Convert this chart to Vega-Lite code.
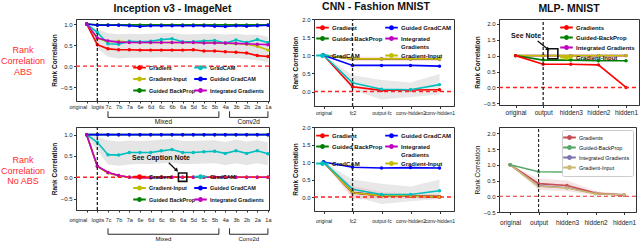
{
  "$schema": "https://vega.github.io/schema/vega-lite/v6.json",
  "padding": {"left": 0, "top": 1, "right": 0, "bottom": 0},
  "background": "white",
  "config": {
    "font": "Liberation Sans",
    "view": {"stroke": "#333", "strokeWidth": 1},
    "axis": {"grid": false, "labelFontSize": 6, "labelColor": "#222", "domainColor": "#333", "tickColor": "#333", "tickSize": 2.5, "labelPadding": 1.5, "titleFontSize": 6.5, "titleFontWeight": "bold", "titleColor": "#111", "titlePadding": 3},
    "legend": {"labelColor": "#111", "symbolStrokeWidth": 1.8, "padding": 0, "labelOffset": 5, "symbolType": "M-1.8,0H1.8M0.45,0A0.45,0.45,0,1,1,-0.45,0A0.45,0.45,0,1,1,0.45,0", "symbolSize": 49, "title": null},
    "title": {"fontSize": 10.5, "fontWeight": "bold", "color": "#111", "offset": 4}
  },
  "datasets": {
    "incA": [
      {"m":"Gradient","i":0,"v":1.0},{"m":"Gradient","i":1,"v":0.51},{"m":"Gradient","i":2,"v":0.41},{"m":"Gradient","i":3,"v":0.39},{"m":"Gradient","i":4,"v":0.39},{"m":"Gradient","i":5,"v":0.38},{"m":"Gradient","i":6,"v":0.38},{"m":"Gradient","i":7,"v":0.38},{"m":"Gradient","i":8,"v":0.38},{"m":"Gradient","i":9,"v":0.38},{"m":"Gradient","i":10,"v":0.39},{"m":"Gradient","i":11,"v":0.36},{"m":"Gradient","i":12,"v":0.36},{"m":"Gradient","i":13,"v":0.34},{"m":"Gradient","i":14,"v":0.33},{"m":"Gradient","i":15,"v":0.31},{"m":"Gradient","i":16,"v":0.25},{"m":"Gradient","i":17,"v":0.23},
      {"m":"Gradient-Input","i":0,"v":1.0},{"m":"Gradient-Input","i":1,"v":0.66},{"m":"Gradient-Input","i":2,"v":0.58},{"m":"Gradient-Input","i":3,"v":0.59},{"m":"Gradient-Input","i":4,"v":0.57},{"m":"Gradient-Input","i":5,"v":0.56},{"m":"Gradient-Input","i":6,"v":0.56},{"m":"Gradient-Input","i":7,"v":0.56},{"m":"Gradient-Input","i":8,"v":0.56},{"m":"Gradient-Input","i":9,"v":0.56},{"m":"Gradient-Input","i":10,"v":0.56},{"m":"Gradient-Input","i":11,"v":0.56},{"m":"Gradient-Input","i":12,"v":0.56},{"m":"Gradient-Input","i":13,"v":0.54},{"m":"Gradient-Input","i":14,"v":0.53},{"m":"Gradient-Input","i":15,"v":0.52},{"m":"Gradient-Input","i":16,"v":0.47},{"m":"Gradient-Input","i":17,"v":0.38},
      {"m":"Guided BackProp","i":0,"v":1.0},{"m":"Guided BackProp","i":1,"v":0.98},{"m":"Guided BackProp","i":2,"v":0.98},{"m":"Guided BackProp","i":3,"v":0.98},{"m":"Guided BackProp","i":4,"v":0.98},{"m":"Guided BackProp","i":5,"v":0.98},{"m":"Guided BackProp","i":6,"v":0.98},{"m":"Guided BackProp","i":7,"v":0.98},{"m":"Guided BackProp","i":8,"v":0.98},{"m":"Guided BackProp","i":9,"v":0.98},{"m":"Guided BackProp","i":10,"v":0.98},{"m":"Guided BackProp","i":11,"v":0.98},{"m":"Guided BackProp","i":12,"v":0.98},{"m":"Guided BackProp","i":13,"v":0.98},{"m":"Guided BackProp","i":14,"v":0.98},{"m":"Guided BackProp","i":15,"v":0.98},{"m":"Guided BackProp","i":16,"v":0.98},{"m":"Guided BackProp","i":17,"v":0.98},
      {"m":"GradCAM","i":0,"v":1.0},{"m":"GradCAM","i":1,"v":0.80},{"m":"GradCAM","i":2,"v":0.53},{"m":"GradCAM","i":3,"v":0.52},{"m":"GradCAM","i":4,"v":0.59},{"m":"GradCAM","i":5,"v":0.58},{"m":"GradCAM","i":6,"v":0.59},{"m":"GradCAM","i":7,"v":0.63},{"m":"GradCAM","i":8,"v":0.65},{"m":"GradCAM","i":9,"v":0.58},{"m":"GradCAM","i":10,"v":0.58},{"m":"GradCAM","i":11,"v":0.60},{"m":"GradCAM","i":12,"v":0.61},{"m":"GradCAM","i":13,"v":0.55},{"m":"GradCAM","i":14,"v":0.62},{"m":"GradCAM","i":15,"v":0.56},{"m":"GradCAM","i":16,"v":0.63},{"m":"GradCAM","i":17,"v":0.56},
      {"m":"Guided GradCAM","i":0,"v":1.0},{"m":"Guided GradCAM","i":1,"v":0.97},{"m":"Guided GradCAM","i":2,"v":0.97},{"m":"Guided GradCAM","i":3,"v":0.97},{"m":"Guided GradCAM","i":4,"v":0.96},{"m":"Guided GradCAM","i":5,"v":0.94},{"m":"Guided GradCAM","i":6,"v":0.96},{"m":"Guided GradCAM","i":7,"v":0.96},{"m":"Guided GradCAM","i":8,"v":0.96},{"m":"Guided GradCAM","i":9,"v":0.96},{"m":"Guided GradCAM","i":10,"v":0.96},{"m":"Guided GradCAM","i":11,"v":0.96},{"m":"Guided GradCAM","i":12,"v":0.95},{"m":"Guided GradCAM","i":13,"v":0.94},{"m":"Guided GradCAM","i":14,"v":0.96},{"m":"Guided GradCAM","i":15,"v":0.95},{"m":"Guided GradCAM","i":16,"v":0.96},{"m":"Guided GradCAM","i":17,"v":0.97},
      {"m":"Integrated Gradients","i":0,"v":1.0},{"m":"Integrated Gradients","i":1,"v":0.67},{"m":"Integrated Gradients","i":2,"v":0.60},{"m":"Integrated Gradients","i":3,"v":0.57},{"m":"Integrated Gradients","i":4,"v":0.56},{"m":"Integrated Gradients","i":5,"v":0.56},{"m":"Integrated Gradients","i":6,"v":0.56},{"m":"Integrated Gradients","i":7,"v":0.56},{"m":"Integrated Gradients","i":8,"v":0.56},{"m":"Integrated Gradients","i":9,"v":0.56},{"m":"Integrated Gradients","i":10,"v":0.56},{"m":"Integrated Gradients","i":11,"v":0.55},{"m":"Integrated Gradients","i":12,"v":0.55},{"m":"Integrated Gradients","i":13,"v":0.55},{"m":"Integrated Gradients","i":14,"v":0.54},{"m":"Integrated Gradients","i":15,"v":0.53},{"m":"Integrated Gradients","i":16,"v":0.52},{"m":"Integrated Gradients","i":17,"v":0.51}
    ],
    "incA_band": [
      {"i":0,"v":1.0,"v2":1.0},{"i":1,"v":0.42,"v2":0.88},{"i":2,"v":0.22,"v2":0.78},{"i":3,"v":0.18,"v2":0.76},{"i":4,"v":0.2,"v2":0.77},{"i":5,"v":0.2,"v2":0.76},{"i":6,"v":0.2,"v2":0.77},{"i":7,"v":0.21,"v2":0.78},{"i":8,"v":0.2,"v2":0.79},{"i":9,"v":0.2,"v2":0.76},{"i":10,"v":0.2,"v2":0.76},{"i":11,"v":0.2,"v2":0.77},{"i":12,"v":0.2,"v2":0.77},{"i":13,"v":0.19,"v2":0.75},{"i":14,"v":0.19,"v2":0.77},{"i":15,"v":0.17,"v2":0.74},{"i":16,"v":0.14,"v2":0.75},{"i":17,"v":0.1,"v2":0.7}
    ],
    "incB": [
      {"m":"Gradient","i":0,"v":1.0},{"m":"Gradient","i":1,"v":0.26},{"m":"Gradient","i":2,"v":0.11},{"m":"Gradient","i":3,"v":0.04},{"m":"Gradient","i":4,"v":0.0},{"m":"Gradient","i":5,"v":-0.01},{"m":"Gradient","i":6,"v":-0.01},{"m":"Gradient","i":7,"v":0.0},{"m":"Gradient","i":8,"v":0.0},{"m":"Gradient","i":9,"v":0.0},{"m":"Gradient","i":10,"v":0.0},{"m":"Gradient","i":11,"v":0.0},{"m":"Gradient","i":12,"v":0.0},{"m":"Gradient","i":13,"v":0.0},{"m":"Gradient","i":14,"v":0.0},{"m":"Gradient","i":15,"v":0.0},{"m":"Gradient","i":16,"v":0.0},{"m":"Gradient","i":17,"v":0.0},
      {"m":"Gradient-Input","i":0,"v":1.0},{"m":"Gradient-Input","i":1,"v":0.25},{"m":"Gradient-Input","i":2,"v":0.10},{"m":"Gradient-Input","i":3,"v":0.03},{"m":"Gradient-Input","i":4,"v":0.0},{"m":"Gradient-Input","i":5,"v":0.0},{"m":"Gradient-Input","i":6,"v":0.0},{"m":"Gradient-Input","i":7,"v":0.0},{"m":"Gradient-Input","i":8,"v":0.0},{"m":"Gradient-Input","i":9,"v":0.0},{"m":"Gradient-Input","i":10,"v":0.0},{"m":"Gradient-Input","i":11,"v":0.0},{"m":"Gradient-Input","i":12,"v":0.0},{"m":"Gradient-Input","i":13,"v":0.0},{"m":"Gradient-Input","i":14,"v":0.0},{"m":"Gradient-Input","i":15,"v":0.0},{"m":"Gradient-Input","i":16,"v":0.0},{"m":"Gradient-Input","i":17,"v":0.0},
      {"m":"Guided BackProp","i":0,"v":1.0},{"m":"Guided BackProp","i":1,"v":1.0},{"m":"Guided BackProp","i":2,"v":1.0},{"m":"Guided BackProp","i":3,"v":1.0},{"m":"Guided BackProp","i":4,"v":1.0},{"m":"Guided BackProp","i":5,"v":1.0},{"m":"Guided BackProp","i":6,"v":1.0},{"m":"Guided BackProp","i":7,"v":1.0},{"m":"Guided BackProp","i":8,"v":1.0},{"m":"Guided BackProp","i":9,"v":1.0},{"m":"Guided BackProp","i":10,"v":1.0},{"m":"Guided BackProp","i":11,"v":1.0},{"m":"Guided BackProp","i":12,"v":1.0},{"m":"Guided BackProp","i":13,"v":1.0},{"m":"Guided BackProp","i":14,"v":1.0},{"m":"Guided BackProp","i":15,"v":1.0},{"m":"Guided BackProp","i":16,"v":1.0},{"m":"Guided BackProp","i":17,"v":1.0},
      {"m":"GradCAM","i":0,"v":1.0},{"m":"GradCAM","i":1,"v":0.82},{"m":"GradCAM","i":2,"v":0.53},{"m":"GradCAM","i":3,"v":0.52},{"m":"GradCAM","i":4,"v":0.58},{"m":"GradCAM","i":5,"v":0.58},{"m":"GradCAM","i":6,"v":0.58},{"m":"GradCAM","i":7,"v":0.62},{"m":"GradCAM","i":8,"v":0.65},{"m":"GradCAM","i":9,"v":0.58},{"m":"GradCAM","i":10,"v":0.58},{"m":"GradCAM","i":11,"v":0.60},{"m":"GradCAM","i":12,"v":0.61},{"m":"GradCAM","i":13,"v":0.56},{"m":"GradCAM","i":14,"v":0.62},{"m":"GradCAM","i":15,"v":0.56},{"m":"GradCAM","i":16,"v":0.62},{"m":"GradCAM","i":17,"v":0.55},
      {"m":"Guided GradCAM","i":0,"v":1.0},{"m":"Guided GradCAM","i":1,"v":1.0},{"m":"Guided GradCAM","i":2,"v":1.0},{"m":"Guided GradCAM","i":3,"v":1.0},{"m":"Guided GradCAM","i":4,"v":1.0},{"m":"Guided GradCAM","i":5,"v":1.0},{"m":"Guided GradCAM","i":6,"v":1.0},{"m":"Guided GradCAM","i":7,"v":1.0},{"m":"Guided GradCAM","i":8,"v":1.0},{"m":"Guided GradCAM","i":9,"v":1.0},{"m":"Guided GradCAM","i":10,"v":1.0},{"m":"Guided GradCAM","i":11,"v":1.0},{"m":"Guided GradCAM","i":12,"v":1.0},{"m":"Guided GradCAM","i":13,"v":1.0},{"m":"Guided GradCAM","i":14,"v":1.0},{"m":"Guided GradCAM","i":15,"v":1.0},{"m":"Guided GradCAM","i":16,"v":1.0},{"m":"Guided GradCAM","i":17,"v":1.0},
      {"m":"Integrated Gradients","i":0,"v":1.0},{"m":"Integrated Gradients","i":1,"v":0.26},{"m":"Integrated Gradients","i":2,"v":0.11},{"m":"Integrated Gradients","i":3,"v":0.04},{"m":"Integrated Gradients","i":4,"v":0.0},{"m":"Integrated Gradients","i":5,"v":-0.01},{"m":"Integrated Gradients","i":6,"v":-0.01},{"m":"Integrated Gradients","i":7,"v":0.0},{"m":"Integrated Gradients","i":8,"v":0.0},{"m":"Integrated Gradients","i":9,"v":0.0},{"m":"Integrated Gradients","i":10,"v":0.0},{"m":"Integrated Gradients","i":11,"v":0.0},{"m":"Integrated Gradients","i":12,"v":0.0},{"m":"Integrated Gradients","i":13,"v":0.0},{"m":"Integrated Gradients","i":14,"v":0.0},{"m":"Integrated Gradients","i":15,"v":0.0},{"m":"Integrated Gradients","i":16,"v":0.0},{"m":"Integrated Gradients","i":17,"v":0.0}
    ],
    "incB_band": [
      {"i":0,"v":1.0,"v2":1.0},{"i":1,"v":0.62,"v2":0.95},{"i":2,"v":0.3,"v2":0.86},{"i":3,"v":0.27,"v2":0.84},{"i":4,"v":0.3,"v2":0.86},{"i":5,"v":0.31,"v2":0.85},{"i":6,"v":0.31,"v2":0.86},{"i":7,"v":0.33,"v2":0.88},{"i":8,"v":0.34,"v2":0.9},{"i":9,"v":0.31,"v2":0.85},{"i":10,"v":0.31,"v2":0.85},{"i":11,"v":0.32,"v2":0.86},{"i":12,"v":0.33,"v2":0.87},{"i":13,"v":0.29,"v2":0.83},{"i":14,"v":0.33,"v2":0.88},{"i":15,"v":0.29,"v2":0.84},{"i":16,"v":0.33,"v2":0.87},{"i":17,"v":0.28,"v2":0.82}
    ],
    "cnnA": [
      {"m":"Guided BackProp","i":0,"v":1.0},{"m":"Guided BackProp","i":1,"v":0.9},{"m":"Guided BackProp","i":2,"v":0.9},{"m":"Guided BackProp","i":3,"v":0.9},{"m":"Guided BackProp","i":4,"v":0.9},
      {"m":"Integrated Gradients","i":0,"v":1.0},{"m":"Integrated Gradients","i":1,"v":0.9},{"m":"Integrated Gradients","i":2,"v":0.9},{"m":"Integrated Gradients","i":3,"v":0.9},{"m":"Integrated Gradients","i":4,"v":0.9},
      {"m":"Gradient-Input","i":0,"v":1.0},{"m":"Gradient-Input","i":1,"v":0.9},{"m":"Gradient-Input","i":2,"v":0.9},{"m":"Gradient-Input","i":3,"v":0.9},{"m":"Gradient-Input","i":4,"v":0.9},
      {"m":"Gradient","i":0,"v":1.0},{"m":"Gradient","i":1,"v":0.13},{"m":"Gradient","i":2,"v":0.03},{"m":"Gradient","i":3,"v":0.04},{"m":"Gradient","i":4,"v":0.05},
      {"m":"GradCAM","i":0,"v":1.0},{"m":"GradCAM","i":1,"v":0.24},{"m":"GradCAM","i":2,"v":0.06},{"m":"GradCAM","i":3,"v":0.05},{"m":"GradCAM","i":4,"v":0.19},
      {"m":"Guided GradCAM","i":0,"v":1.0},{"m":"Guided GradCAM","i":1,"v":0.72},{"m":"Guided GradCAM","i":2,"v":0.72},{"m":"Guided GradCAM","i":3,"v":0.72},{"m":"Guided GradCAM","i":4,"v":0.70}
    ],
    "cnnA_band": [
      {"i":0,"v":1.0,"v2":1.0},{"i":1,"v":0.04,"v2":0.45},{"i":2,"v":-0.22,"v2":0.32},{"i":3,"v":-0.15,"v2":0.25},{"i":4,"v":-0.08,"v2":0.48}
    ],
    "cnnA_band2": [
      {"i":0,"v":1.0,"v2":1.0},{"i":1,"v":0.84,"v2":0.96},{"i":2,"v":0.84,"v2":0.96},{"i":3,"v":0.84,"v2":0.96},{"i":4,"v":0.84,"v2":0.96}
    ],
    "cnnB": [
      {"m":"Guided BackProp","i":0,"v":1.0},{"m":"Guided BackProp","i":1,"v":0.13},{"m":"Guided BackProp","i":2,"v":0.04},{"m":"Guided BackProp","i":3,"v":0.03},{"m":"Guided BackProp","i":4,"v":0.01},
      {"m":"Gradient","i":0,"v":1.0},{"m":"Gradient","i":1,"v":0.12},{"m":"Gradient","i":2,"v":0.03},{"m":"Gradient","i":3,"v":0.02},{"m":"Gradient","i":4,"v":0.01},
      {"m":"Integrated Gradients","i":0,"v":1.0},{"m":"Integrated Gradients","i":1,"v":0.13},{"m":"Integrated Gradients","i":2,"v":0.04},{"m":"Integrated Gradients","i":3,"v":0.03},{"m":"Integrated Gradients","i":4,"v":0.0},
      {"m":"Gradient-Input","i":0,"v":1.0},{"m":"Gradient-Input","i":1,"v":0.12},{"m":"Gradient-Input","i":2,"v":0.04},{"m":"Gradient-Input","i":3,"v":0.03},{"m":"Gradient-Input","i":4,"v":0.0},
      {"m":"GradCAM","i":0,"v":1.0},{"m":"GradCAM","i":1,"v":0.22},{"m":"GradCAM","i":2,"v":0.07},{"m":"GradCAM","i":3,"v":0.07},{"m":"GradCAM","i":4,"v":0.18},
      {"m":"Guided GradCAM","i":0,"v":1.0},{"m":"Guided GradCAM","i":1,"v":0.85},{"m":"Guided GradCAM","i":2,"v":0.83},{"m":"Guided GradCAM","i":3,"v":0.84},{"m":"Guided GradCAM","i":4,"v":0.83}
    ],
    "cnnB_band": [
      {"i":0,"v":1.0,"v2":1.0},{"i":1,"v":0.02,"v2":0.5},{"i":2,"v":-0.2,"v2":0.38},{"i":3,"v":-0.12,"v2":0.3},{"i":4,"v":-0.06,"v2":0.5}
    ],
    "cnnB_band2": [
      {"i":0,"v":1.0,"v2":1.0},{"i":1,"v":-0.06,"v2":0.32},{"i":2,"v":-0.05,"v2":0.14},{"i":3,"v":-0.04,"v2":0.1},{"i":4,"v":-0.05,"v2":0.08}
    ],
    "mlpA": [
      {"m":"Integrated Gradients","i":0,"v":1.0},{"m":"Integrated Gradients","i":1,"v":1.0},{"m":"Integrated Gradients","i":2,"v":1.0},{"m":"Integrated Gradients","i":3,"v":1.0},{"m":"Integrated Gradients","i":4,"v":1.0},
      {"m":"Gradient-Input","i":0,"v":1.0},{"m":"Gradient-Input","i":1,"v":1.0},{"m":"Gradient-Input","i":2,"v":1.0},{"m":"Gradient-Input","i":3,"v":1.0},{"m":"Gradient-Input","i":4,"v":1.0},
      {"m":"Guided-BackProp","i":0,"v":1.0},{"m":"Guided-BackProp","i":1,"v":0.86},{"m":"Guided-BackProp","i":2,"v":0.86},{"m":"Guided-BackProp","i":3,"v":0.84},{"m":"Guided-BackProp","i":4,"v":0.84},
      {"m":"Gradients","i":0,"v":1.0},{"m":"Gradients","i":1,"v":0.73},{"m":"Gradients","i":2,"v":0.73},{"m":"Gradients","i":3,"v":0.71},{"m":"Gradients","i":4,"v":0.0}
    ],
    "mlpB": [
      {"m":"Integrated Gradients","i":0,"v":1.0},{"m":"Integrated Gradients","i":1,"v":0.33},{"m":"Integrated Gradients","i":2,"v":0.27},{"m":"Integrated Gradients","i":3,"v":0.09},{"m":"Integrated Gradients","i":4,"v":0.05},
      {"m":"Gradients","i":0,"v":1.0},{"m":"Gradients","i":1,"v":0.40},{"m":"Gradients","i":2,"v":0.34},{"m":"Gradients","i":3,"v":0.10},{"m":"Gradients","i":4,"v":0.03},
      {"m":"Gradient-Input","i":0,"v":1.0},{"m":"Gradient-Input","i":1,"v":0.32},{"m":"Gradient-Input","i":2,"v":0.26},{"m":"Gradient-Input","i":3,"v":0.08},{"m":"Gradient-Input","i":4,"v":0.05},
      {"m":"Guided-BackProp","i":0,"v":1.0},{"m":"Guided-BackProp","i":1,"v":0.78},{"m":"Guided-BackProp","i":2,"v":0.77},{"m":"Guided-BackProp","i":3,"v":0.74},{"m":"Guided-BackProp","i":4,"v":0.72}
    ],
    "mlpB_band": [
      {"i":0,"v":1.0,"v2":1.0},{"i":1,"v":0.2,"v2":0.56},{"i":2,"v":0.16,"v2":0.5},{"i":3,"v":0.04,"v2":0.16},{"i":4,"v":0.0,"v2":0.08}
    ],
    "incA_br": [
      {"i":2,"i2":2,"v":-1.075,"v2":-1.22},{"i":12.4,"i2":12.4,"v":-1.075,"v2":-1.22},{"i":2,"i2":12.4,"v":-1.22,"v2":-1.22},
      {"i":13.4,"i2":13.4,"v":-1.075,"v2":-1.22},{"i":17,"i2":17,"v":-1.075,"v2":-1.22},{"i":13.4,"i2":17,"v":-1.22,"v2":-1.22}
    ],
    "incA_tx": [{"i":7.2,"v":-1.34,"t":"Mixed"},{"i":15.2,"v":-1.34,"t":"Conv2d"}],
    "incB_br": [
      {"i":2,"i2":2,"v":-1.2,"v2":-1.34},{"i":12.4,"i2":12.4,"v":-1.2,"v2":-1.34},{"i":2,"i2":12.4,"v":-1.34,"v2":-1.34},
      {"i":13.4,"i2":13.4,"v":-1.2,"v2":-1.34},{"i":17,"i2":17,"v":-1.2,"v2":-1.34},{"i":13.4,"i2":17,"v":-1.34,"v2":-1.34}
    ],
    "incB_tx": [{"i":7.2,"v":-1.44,"t":"Mixed"},{"i":15.2,"v":-1.44,"t":"Conv2d"}]
  },
  "columns": 3,
  "align": "none",
  "bounds": "flush",
  "spacing": {"row": 21, "column": 45},
  "resolve": {"scale": {"color": "independent"}, "legend": {"color": "independent"}},
  "concat": [
    {
      "width": 193, "height": 82,
      "title": {"text": "Inception v3 - ImageNet"},
      "encoding": {
        "x": {"field": "i", "type": "quantitative", "scale": {"domain": [-1, 17.1], "nice": false, "zero": false},
              "axis": {"title": null, "values": [0,1,2,3,4,5,6,7,8,9,10,11,12,13,14,15,16,17], "labelExpr": "['original','logits','7c','7b','7a','6e','6d','6c','6b','6a','5d','5c','5b','4a','3b','2b','2a','1a'][datum.value]", "labelFontSize": 5.5, "labelOverlap": false, "labelFlush": false, "labelBound": false, "tickSize": 2, "labelAlign": {"condition": {"test": "datum.value < 1", "value": "right"}, "value": "center"}}},
        "y": {"field": "v", "type": "quantitative", "scale": {"domain": [-0.83, 1.12], "nice": false, "zero": false},
              "axis": {"title": "Rank Correlation", "values": [-0.5, 0, 0.5, 1], "format": ".1f"}}
      },
      "layer": [
        {"data": {"name": "incA_band"}, "mark": {"type": "area", "color": "#bdbdbd", "opacity": 0.4}, "encoding": {"y2": {"field": "v2"}}},
        {"data": {"name": "incA"}, "mark": {"type": "line", "strokeWidth": 1.6, "point": {"filled": true, "size": 12}},
         "encoding": {"color": {"field": "m", "type": "nominal",
                     "scale": {"domain": ["Gradient", "Gradient-Input", "Guided BackProp", "GradCAM", "Guided GradCAM", "Integrated Gradients"], "range": ["#ff0000", "#bfbf00", "#008000", "#00bfbf", "#0000ff", "#bf00bf"]},
                     "legend": {"orient": "bottom-right", "offset": 5, "columns": 2, "columnPadding": -6, "rowPadding": 0.5, "labelFontSize": 5.5, "labelFontWeight": "bold"}}}},
        {"data": {"values": [{"i": -1, "i2": 17.1, "v": 0}]}, "mark": {"type": "rule", "color": "#ff2020", "strokeDash": [4, 3], "strokeWidth": 1.3}, "encoding": {"x2": {"field": "i2"}}},
        {"data": {"values": [{"i": 1, "v": -0.83, "v2": 1.12}]}, "mark": {"type": "rule", "color": "#222", "strokeDash": [3, 2], "strokeWidth": 1.3}, "encoding": {"y2": {"field": "v2"}}},
        {"data": {"name": "incA_br"}, "mark": {"type": "rule", "color": "#111", "strokeWidth": 0.9}, "encoding": {"x2": {"field": "i2"}, "y2": {"field": "v2"}}},
        {"data": {"name": "incA_tx"}, "mark": {"type": "text", "fontSize": 6.5, "baseline": "middle", "color": "#111"}, "encoding": {"text": {"field": "t"}}},
        {"data": {"values": [{"i": -5.97, "v": 0.38, "t": "Rank\nCorrelation\nABS"}]}, "mark": {"type": "text", "fontSize": 9, "lineBreak": "\n", "lineHeight": 11, "baseline": "middle", "align": "center", "color": "#ff2a2a"}, "encoding": {"text": {"field": "t"}}}
      ]
    },
    {
      "width": 140, "height": 87,
      "title": {"text": "CNN - Fashion MNIST", "dx": -8},
      "encoding": {
        "x": {"field": "i", "type": "quantitative", "scale": {"domain": [-0.33, 4.5], "nice": false, "zero": false},
              "axis": {"title": null, "values": [0,1,2,3,4], "labelExpr": "['original','fc2','output-fc','conv-hidden2','conv-hidden1'][datum.value]", "labelFontSize": 5, "labelOverlap": false, "labelFlush": false, "labelBound": false}},
        "y": {"field": "v", "type": "quantitative", "scale": {"domain": [-0.4, 2.0], "nice": false, "zero": false},
              "axis": {"title": "Rank Correlation", "values": [0, 0.5, 1, 1.5, 2], "format": ".1f"}}
      },
      "layer": [
        {"data": {"name": "cnnA_band"}, "mark": {"type": "area", "color": "#bdbdbd", "opacity": 0.35}, "encoding": {"y2": {"field": "v2"}}},
        {"data": {"name": "cnnA_band2"}, "mark": {"type": "area", "color": "#f2b8b8", "opacity": 0.45}, "encoding": {"y2": {"field": "v2"}}},
        {"data": {"name": "cnnA"}, "mark": {"type": "line", "strokeWidth": 1.6, "point": {"filled": true, "size": 12}},
         "encoding": {"color": {"field": "m", "type": "nominal",
                     "scale": {"domain": ["Gradient", "Guided BackProp", "GradCAM", "Guided GradCAM", "Integrated Gradients", "Gradient-Input"], "range": ["#ff0000", "#008000", "#00bfbf", "#0000ff", "#bf00bf", "#bfbf00"]},
                     "legend": {"orient": "top-left", "offset": 4, "columns": 2, "columnPadding": -2, "rowPadding": 0, "labelFontSize": 6, "labelFontWeight": "bold", "labelExpr": "datum.label == 'Integrated Gradients' ? ['Integrated', 'Gradients'] : datum.label"}}}},
        {"data": {"values": [{"i": -0.33, "i2": 4.5, "v": 0}]}, "mark": {"type": "rule", "color": "#ff2020", "strokeDash": [4, 3], "strokeWidth": 1.3}, "encoding": {"x2": {"field": "i2"}}},
        {"data": {"values": [{"i": 1, "v": -0.4, "v2": 2.0}]}, "mark": {"type": "rule", "color": "#222", "strokeDash": [3, 2], "strokeWidth": 1.3}, "encoding": {"y2": {"field": "v2"}}}
      ]
    },
    {
      "width": 140, "height": 86,
      "title": {"text": "MLP- MNIST"},
      "encoding": {
        "x": {"field": "i", "type": "quantitative", "scale": {"domain": [-0.6, 4.47], "nice": false, "zero": false},
              "axis": {"title": null, "values": [0,1,2,3,4], "labelExpr": "['original','output','hidden3','hidden2','hidden1'][datum.value]", "labelFontSize": 6.5, "labelOverlap": false, "labelFlush": false, "labelBound": false}},
        "y": {"field": "v", "type": "quantitative", "scale": {"domain": [-0.55, 2.15], "nice": false, "zero": false},
              "axis": {"title": "Rank Correlation", "values": [-0.5, 0, 0.5, 1, 1.5, 2], "format": ".1f"}}
      },
      "layer": [
        {"data": {"name": "mlpA"}, "mark": {"type": "line", "strokeWidth": 1.6, "point": {"filled": true, "size": 12}},
         "encoding": {"color": {"field": "m", "type": "nominal",
                     "scale": {"domain": ["Gradients", "Guided-BackProp", "Integrated Gradients", "Gradient-Input"], "range": ["#ff0000", "#008000", "#bf00bf", "#bfbf00"]},
                     "legend": {"orient": "top-right", "offset": 4, "columns": 1, "rowPadding": -4.5, "labelFontSize": 6, "labelFontWeight": "bold"}}}},
        {"data": {"values": [{"i": -0.6, "i2": 4.47, "v": 0}]}, "mark": {"type": "rule", "color": "#ff2020", "strokeDash": [4, 3], "strokeWidth": 1.3}, "encoding": {"x2": {"field": "i2"}}},
        {"data": {"values": [{"i": 1, "v": -0.55, "v2": 2.15}]}, "mark": {"type": "rule", "color": "#222", "strokeDash": [3, 2], "strokeWidth": 1.3}, "encoding": {"y2": {"field": "v2"}}},
        {"data": {"values": [{"i": 1.35, "v": 1.06}]}, "mark": {"type": "point", "shape": "square", "size": 100, "filled": false, "color": "#111", "strokeWidth": 1.6, "opacity": 1}},
        {"data": {"values": [{"i": 0.8, "v": 1.46, "i2": 1.17, "v2": 1.2}]}, "mark": {"type": "rule", "color": "#111", "strokeWidth": 1.3}, "encoding": {"x2": {"field": "i2"}, "y2": {"field": "v2"}}},
        {"data": {"values": [{"i": 1.17, "v": 1.2}]}, "mark": {"type": "point", "shape": "triangle-up", "angle": 130, "size": 18, "filled": true, "color": "#111", "opacity": 1}},
        {"data": {"values": [{"i": 0.38, "v": 1.63, "t": "See Note"}]}, "mark": {"type": "text", "fontSize": 7, "fontWeight": "bold", "color": "#111", "baseline": "middle"}, "encoding": {"text": {"field": "t"}}}
      ]
    },
    {
      "width": 193, "height": 83,
      "encoding": {
        "x": {"field": "i", "type": "quantitative", "scale": {"domain": [-1, 17.1], "nice": false, "zero": false},
              "axis": {"title": null, "values": [0,1,2,3,4,5,6,7,8,9,10,11,12,13,14,15,16,17], "labelExpr": "['original','logits','7c','7b','7a','6e','6d','6c','6b','6a','5d','5c','5b','4a','3b','2b','2a','1a'][datum.value]", "labelFontSize": 5.5, "labelOverlap": false, "labelFlush": false, "labelBound": false, "tickSize": 2, "labelPadding": 5, "labelAlign": {"condition": {"test": "datum.value < 1", "value": "right"}, "value": "center"}}},
        "y": {"field": "v", "type": "quantitative", "scale": {"domain": [-0.77, 1.18], "nice": false, "zero": false},
              "axis": {"title": "Rank Correlation", "values": [-0.5, 0, 0.5, 1], "format": ".1f"}}
      },
      "layer": [
        {"data": {"name": "incB_band"}, "mark": {"type": "area", "color": "#bdbdbd", "opacity": 0.4}, "encoding": {"y2": {"field": "v2"}}},
        {"data": {"name": "incB"}, "mark": {"type": "line", "strokeWidth": 1.6, "point": {"filled": true, "size": 12}},
         "encoding": {"color": {"field": "m", "type": "nominal",
                     "scale": {"domain": ["Gradient", "Gradient-Input", "Guided BackProp", "GradCAM", "Guided GradCAM", "Integrated Gradients"], "range": ["#ff0000", "#bfbf00", "#008000", "#00bfbf", "#0000ff", "#bf00bf"]},
                     "legend": {"orient": "bottom-right", "offset": 5, "columns": 2, "columnPadding": -6, "rowPadding": 0.5, "labelFontSize": 5.5, "labelFontWeight": "bold"}}}},
        {"data": {"values": [{"i": -1, "i2": 17.1, "v": 0}]}, "mark": {"type": "rule", "color": "#ff2020", "strokeDash": [4, 3], "strokeWidth": 1.3}, "encoding": {"x2": {"field": "i2"}}},
        {"data": {"values": [{"i": 1, "v": -0.77, "v2": 1.18}]}, "mark": {"type": "rule", "color": "#222", "strokeDash": [3, 2], "strokeWidth": 1.3}, "encoding": {"y2": {"field": "v2"}}},
        {"data": {"name": "incB_br"}, "mark": {"type": "rule", "color": "#111", "strokeWidth": 0.9}, "encoding": {"x2": {"field": "i2"}, "y2": {"field": "v2"}}},
        {"data": {"name": "incB_tx"}, "mark": {"type": "text", "fontSize": 6, "baseline": "middle", "color": "#111"}, "encoding": {"text": {"field": "t"}}},
        {"data": {"values": [{"i": 9, "v": 0}]}, "mark": {"type": "point", "shape": "square", "size": 70, "filled": false, "color": "#111", "strokeWidth": 1.6, "opacity": 1}},
        {"data": {"values": [{"i": 7.7, "v": 0.34, "i2": 8.45, "v2": 0.16}]}, "mark": {"type": "rule", "color": "#111", "strokeWidth": 1.3}, "encoding": {"x2": {"field": "i2"}, "y2": {"field": "v2"}}},
        {"data": {"values": [{"i": 8.45, "v": 0.16}]}, "mark": {"type": "point", "shape": "triangle-up", "angle": 135, "size": 18, "filled": true, "color": "#111", "opacity": 1}},
        {"data": {"values": [{"i": 6.97, "v": 0.45, "t": "See Caption Note"}]}, "mark": {"type": "text", "fontSize": 7, "fontWeight": "bold", "color": "#111", "baseline": "middle"}, "encoding": {"text": {"field": "t"}}},
        {"data": {"values": [{"i": -5.97, "v": 0.4, "t": "Rank\nCorrelation\nNo ABS"}]}, "mark": {"type": "text", "fontSize": 9, "lineBreak": "\n", "lineHeight": 10.5, "baseline": "middle", "align": "center", "color": "#ff2a2a"}, "encoding": {"text": {"field": "t"}}}
      ]
    },
    {
      "width": 140, "height": 84,
      "encoding": {
        "x": {"field": "i", "type": "quantitative", "scale": {"domain": [-0.33, 4.5], "nice": false, "zero": false},
              "axis": {"title": null, "values": [0,1,2,3,4], "labelExpr": "['original','fc2','output-fc','conv-hidden2','conv-hidden1'][datum.value]", "labelFontSize": 5, "labelOverlap": false, "labelFlush": false, "labelBound": false, "labelPadding": 5}},
        "y": {"field": "v", "type": "quantitative", "scale": {"domain": [-0.4, 2.0], "nice": false, "zero": false},
              "axis": {"title": "Rank Correlation", "values": [0, 0.5, 1, 1.5, 2], "format": ".1f"}}
      },
      "layer": [
        {"data": {"name": "cnnB_band"}, "mark": {"type": "area", "color": "#bdbdbd", "opacity": 0.35}, "encoding": {"y2": {"field": "v2"}}},
        {"data": {"name": "cnnB_band2"}, "mark": {"type": "area", "color": "#f2b8b8", "opacity": 0.45}, "encoding": {"y2": {"field": "v2"}}},
        {"data": {"name": "cnnB"}, "mark": {"type": "line", "strokeWidth": 1.6, "point": {"filled": true, "size": 12}},
         "encoding": {"color": {"field": "m", "type": "nominal",
                     "scale": {"domain": ["Gradient", "Guided BackProp", "GradCAM", "Guided GradCAM", "Integrated Gradients", "Gradient-Input"], "range": ["#ff0000", "#008000", "#00bfbf", "#0000ff", "#bf00bf", "#bfbf00"]},
                     "legend": {"orient": "top-left", "offset": 4, "columns": 2, "columnPadding": -2, "rowPadding": 0, "labelFontSize": 6, "labelFontWeight": "bold", "labelExpr": "datum.label == 'Integrated Gradients' ? ['Integrated', 'Gradients'] : datum.label"}}}},
        {"data": {"values": [{"i": -0.33, "i2": 4.5, "v": 0}]}, "mark": {"type": "rule", "color": "#ff2020", "strokeDash": [4, 3], "strokeWidth": 1.3}, "encoding": {"x2": {"field": "i2"}}},
        {"data": {"values": [{"i": 1, "v": -0.4, "v2": 2.0}]}, "mark": {"type": "rule", "color": "#222", "strokeDash": [3, 2], "strokeWidth": 1.3}, "encoding": {"y2": {"field": "v2"}}}
      ]
    },
    {
      "width": 137, "height": 85,
      "encoding": {
        "x": {"field": "i", "type": "quantitative", "scale": {"domain": [-0.39, 4.42], "nice": false, "zero": false},
              "axis": {"title": null, "values": [0,1,2,3,4], "labelExpr": "['original','output','hidden3','hidden2','hidden1'][datum.value]", "labelFontSize": 6.5, "labelOverlap": false, "labelFlush": false, "labelBound": false, "labelPadding": 5}},
        "y": {"field": "v", "type": "quantitative", "scale": {"domain": [-0.5, 2.2], "nice": false, "zero": false},
              "axis": {"title": "Rank Correlation", "values": [-0.5, 0, 0.5, 1, 1.5, 2], "format": ".1f", "titleFontWeight": "normal"}}
      },
      "layer": [
        {"data": {"name": "mlpB_band"}, "mark": {"type": "area", "color": "#e8b8b8", "opacity": 0.4}, "encoding": {"y2": {"field": "v2"}}},
        {"data": {"name": "mlpB"}, "mark": {"type": "line", "strokeWidth": 1.6, "point": {"filled": true, "size": 12}},
         "encoding": {"color": {"field": "m", "type": "nominal",
                     "scale": {"domain": ["Gradients", "Guided-BackProp", "Integrated Gradients", "Gradient-Input"], "range": ["#c44e52", "#55a868", "#8172b2", "#ccb974"]},
                     "legend": {"orient": "top-right", "offset": 3, "columns": 1, "rowPadding": -4.5, "labelFontSize": 5.5, "padding": 3, "fillColor": "white", "strokeColor": "#cccccc", "cornerRadius": 2}}}},
        {"data": {"values": [{"i": -0.39, "i2": 4.42, "v": 0}]}, "mark": {"type": "rule", "color": "#e03030", "strokeDash": [4, 3], "strokeWidth": 1.1}, "encoding": {"x2": {"field": "i2"}}},
        {"data": {"values": [{"i": 1, "v": -0.5, "v2": 2.2}]}, "mark": {"type": "rule", "color": "#222", "strokeDash": [3, 2], "strokeWidth": 1.1}, "encoding": {"y2": {"field": "v2"}}}
      ]
    }
  ]
}
